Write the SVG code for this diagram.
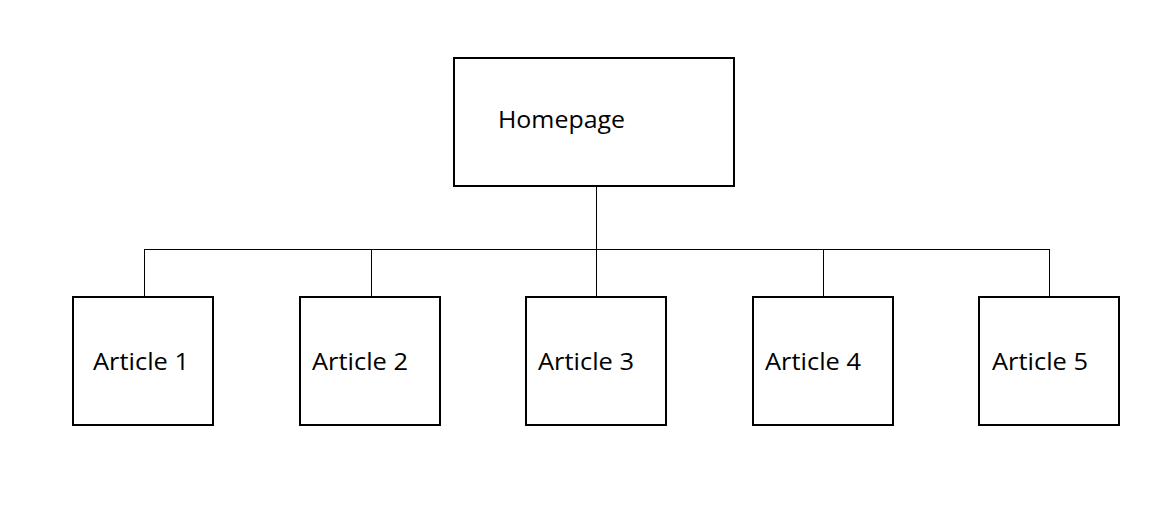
<svg xmlns="http://www.w3.org/2000/svg" width="1161" height="509" viewBox="0 0 1161 509">
<style>
.box{fill:#fff;stroke:#000;stroke-width:2}
.lbl{font-family:"Open Sans","Liberation Sans",sans-serif;font-size:24px;fill:#000}
.conn{stroke:#000;stroke-width:1;fill:none}
</style>
<rect width="1161" height="509" fill="#fff"/>
<g id="connectors">
<path class="conn" d="M596.5 186V249.5M144.5 249.5H1049.5M144.5 249V297M371.5 249V297M596.5 249V297M823.5 249V297M1049.5 249V297"/>
</g>
<g id="homepage"><rect class="box" x="454" y="58" width="280" height="128"/><text class="lbl" x="498" y="128" textLength="127" lengthAdjust="spacingAndGlyphs">Homepage</text></g>
<g id="article1"><rect class="box" x="73" y="297" width="140" height="128"/><text class="lbl" x="93" y="370" textLength="96" lengthAdjust="spacingAndGlyphs">Article 1</text></g>
<g id="article2"><rect class="box" x="300" y="297" width="140" height="128"/><text class="lbl" x="312" y="370" textLength="96" lengthAdjust="spacingAndGlyphs">Article 2</text></g>
<g id="article3"><rect class="box" x="526" y="297" width="140" height="128"/><text class="lbl" x="538" y="370" textLength="96" lengthAdjust="spacingAndGlyphs">Article 3</text></g>
<g id="article4"><rect class="box" x="753" y="297" width="140" height="128"/><text class="lbl" x="765" y="370" textLength="96" lengthAdjust="spacingAndGlyphs">Article 4</text></g>
<g id="article5"><rect class="box" x="979" y="297" width="140" height="128"/><text class="lbl" x="992" y="370" textLength="96" lengthAdjust="spacingAndGlyphs">Article 5</text></g>
</svg>
